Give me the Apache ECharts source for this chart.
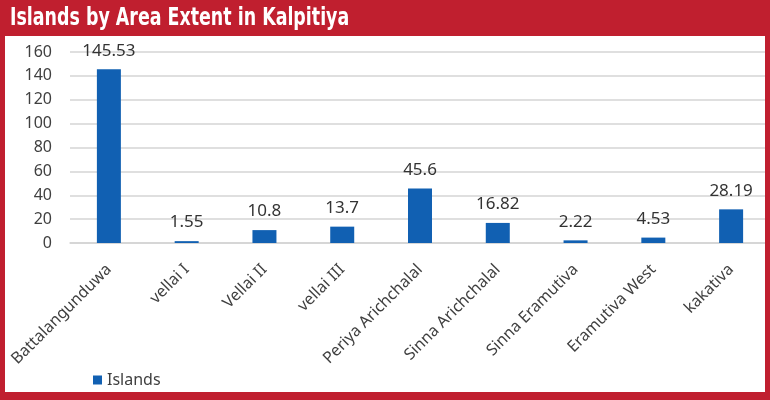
<!DOCTYPE html>
<html>
<head>
<meta charset="utf-8">
<script src="https://cdn.jsdelivr.net/npm/echarts@6/dist/echarts.min.js"></script>
<style>
  html, body { margin: 0; padding: 0; background: #fff; }
  #chart { width: 770px; height: 400px; }
</style>
</head>
<body>
<div id="chart"></div>
<script>
// island names and area extent
const islands = ['Battalangunduwa', 'vellai I', 'Vellai II', 'vellai III', 'Periya Arichchalal',
  'Sinna Arichchalal', 'Sinna Eramutiva', 'Eramutiva West', 'kakativa'];
const areaValues = [145.53, 1.55, 10.8, 13.7, 45.6, 16.82, 2.22, 4.53, 28.19];
const yTicks = { min: 0, max: 160, interval: 20 };

const red = '#c01f2f';
const txt = '#404040';
const font = '"Noto Sans", sans-serif';

const myChart = echarts.init(document.getElementById('chart'));
const option = {
  backgroundColor: '#fff',
  animation: false,
  // red frame + title bar on top of everything
  graphic: [
    { type: 'rect', z: 100, shape: { x: 0, y: 0, width: 770, height: 36 }, style: { fill: red } },
    { type: 'rect', z: 100, shape: { x: 0, y: 36, width: 5, height: 364 }, style: { fill: red } },
    { type: 'rect', z: 100, shape: { x: 765, y: 36, width: 5, height: 364 }, style: { fill: red } },
    { type: 'rect', z: 100, shape: { x: 0, y: 392, width: 770, height: 8 }, style: { fill: red } },
    {
      type: 'text', z: 101, x: 10, y: 18, scaleX: 0.775,
      style: {
        text: 'Islands by Area Extent in Kalpitiya',
        fill: '#fff',
        font: 'bold 25px "DejaVu Sans Condensed", sans-serif',
        verticalAlign: 'middle',
      },
    },
  ],
  legend: {
    data: ['Islands'],
    left: 88,
    top: 367,
    icon: 'rect',
    itemWidth: 9,
    itemHeight: 9,
    itemGap: 6,
    textStyle: { fontFamily: font, fontSize: 16, color: txt },
  },
  grid: { left: 70, top: 52, width: 705, height: 191 },
  xAxis: {
    type: 'category',
    data: islands,
    axisLine: { lineStyle: { color: '#d4d4d4', width: 1.5 } },
    axisTick: { show: false },
    axisLabel: { rotate: 45, margin: 24, interval: 0, fontFamily: font, fontSize: 16, color: txt },
  },
  yAxis: {
    type: 'value',
    min: yTicks.min,
    max: yTicks.max,
    interval: yTicks.interval,
    axisLine: { show: false },
    axisTick: { show: false },
    axisLabel: { margin: 18, fontFamily: font, fontSize: 16, color: txt },
    splitLine: { lineStyle: { color: '#d4d4d4', width: 1.5 } },
  },
  series: [
    {
      name: 'Islands',
      type: 'bar',
      data: areaValues,
      barWidth: 24,
      itemStyle: { color: '#1160b2' },
      label: {
        show: true,
        position: 'top',
        distance: 10,
        fontFamily: font,
        fontSize: 17,
        color: '#333',
      },
    },
  ],
};
myChart.setOption(option);
</script>
</body>
</html>
